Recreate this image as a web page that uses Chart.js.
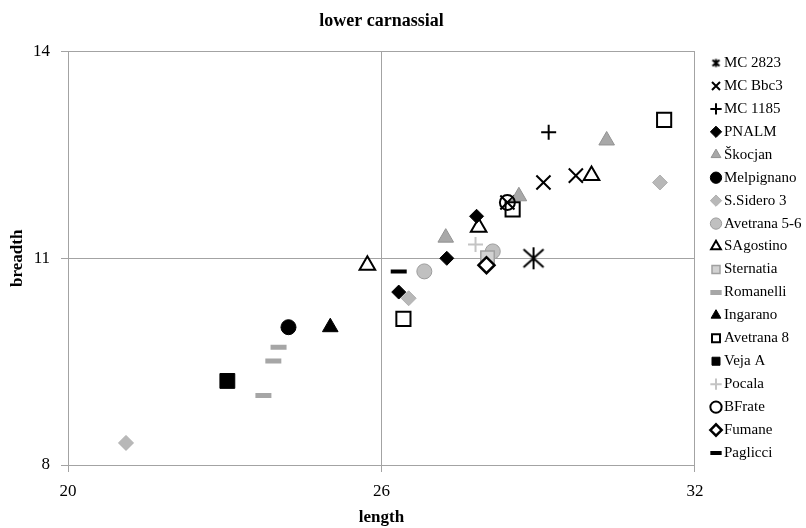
<!DOCTYPE html>
<html><head><meta charset="utf-8">
<script src="https://cdn.jsdelivr.net/npm/chart.js@4"></script>
<style>html,body{margin:0;padding:0;background:#fff}</style>
</head><body>
<canvas id="c" width="806" height="528" style="width:806px;height:528px;display:block"></canvas>
<script>
// ---- data (length, breadth) ----
const seriesNames = ['MC 2823','MC Bbc3','MC 1185','PNALM','Škocjan','Melpignano','S.Sidero 3','Avetrana 5-6','SAgostino','Sternatia','Romanelli','Ingarano','Avetrana 8','Veja A','Pocala','BFrate','Fumane','Paglicci'];
const mc2823 = [[28.91, 11.0]];
const mcBbc3 = [[29.10, 12.10], [29.72, 12.20], [28.41, 11.81]];
const mc1185 = [[29.20, 12.83]];
const pnalm = [[27.82, 11.61], [27.25, 11.0], [26.33, 10.51]];
const skocjan = [[30.31, 12.71], [28.63, 11.90], [27.23, 11.30]];
const melpignano = [[24.22, 10.0]];
const sSidero3 = [[31.33, 12.10], [26.52, 10.42], [21.11, 8.32]];
const avetrana56 = [[28.13, 11.10], [26.82, 10.81]];
const sAgostino = [[30.02, 12.20], [27.86, 11.45], [25.73, 10.90]];
const sternatia = [[28.03, 11.01]];
const romanelli = [[24.03, 9.71], [23.93, 9.51], [23.74, 9.01]];
const ingarano = [[25.02, 10.0]];
const avetrana8 = [[31.41, 13.01], [28.51, 11.71], [26.42, 10.12]];
const vejaA = [[23.05, 9.22]];
const pocala = [[27.80, 11.20]];
const bFrate = [[28.41, 11.81]];
const fumane = [[28.01, 10.90]];
const paglicci = [[26.33, 10.81]];
const xTicks = [20, 26, 32];
const yTicks = [8, 11, 14];

const seriesData = [mc2823, mcBbc3, mc1185, pnalm, skocjan, melpignano, sSidero3, avetrana56, sAgostino, sternatia, romanelli, ingarano, avetrana8, vejaA, pocala, bFrate, fumane, paglicci];

// ---- styles ----
function makeAsterisk(size, lw, r, dx, dy) {
  const c = document.createElement('canvas');
  c.width = c.height = size;
  const g = c.getContext('2d');
  g.strokeStyle = '#000'; g.lineWidth = lw;
  const m = size / 2;
  g.beginPath();
  g.moveTo(m, m - r); g.lineTo(m, m + r);
  g.moveTo(m - dx, m - dy); g.lineTo(m + dx, m + dy);
  g.moveTo(m + dx, m - dy); g.lineTo(m - dx, m + dy);
  g.stroke();
  return c;
}
const bigAst = makeAsterisk(26, 2, 11, 10, 9);
const smallAst = makeAsterisk(11, 2, 4, 3.5, 3);
const NONE = 'rgba(0,0,0,0)';
const styles = [
  {pointStyle: bigAst, r: 12, bg: NONE, bc: '#000', bw: 2},
  {pointStyle: 'crossRot', r: 10, bg: NONE, bc: '#000', bw: 2},
  {pointStyle: 'cross', r: 7.5, bg: NONE, bc: '#000', bw: 2},
  {pointStyle: 'rectRot', r: 7, bg: '#000', bc: '#000', bw: 1},
  {pointStyle: 'triangle', r: 9, bg: '#a8a8a8', bc: '#929292', bw: 1},
  {pointStyle: 'circle', r: 7.5, bg: '#000', bc: '#000', bw: 1},
  {pointStyle: 'rectRot', r: 7.5, bg: '#b8b8b8', bc: '#b0b0b0', bw: 1},
  {pointStyle: 'circle', r: 7.5, bg: '#c0c0c0', bc: '#9c9c9c', bw: 1},
  {pointStyle: 'triangle', r: 9, bg: NONE, bc: '#000', bw: 2},
  {pointStyle: 'rect', r: 9.5, bg: '#d2d2d2', bc: '#a0a0a0', bw: 1.5},
  {pointStyle: 'line', r: 8, bg: '#a6a6a6', bc: '#a6a6a6', bw: 5},
  {pointStyle: 'triangle', r: 9, bg: '#000', bc: '#000', bw: 1},
  {pointStyle: 'rect', r: 10, bg: NONE, bc: '#000', bw: 2},
  {pointStyle: 'rect', r: 10.5, bg: '#000', bc: '#000', bw: 1},
  {pointStyle: 'cross', r: 7.5, bg: NONE, bc: '#c4c4c4', bw: 2},
  {pointStyle: 'circle', r: 7.5, bg: NONE, bc: '#000', bw: 2},
  {pointStyle: 'rectRot', r: 8, bg: '#fff', bc: '#000', bw: 2.5},
  {pointStyle: 'line', r: 8, bg: '#000', bc: '#000', bw: 4}
];

const datasets = seriesNames.map((name, i) => ({
  label: name,
  order: -i, // later series drawn on top, as in the reference
  data: seriesData[i].map(p => ({x: p[0], y: p[1]})),
  pointStyle: styles[i].pointStyle,
  pointRadius: styles[i].r,
  pointHoverRadius: styles[i].r,
  backgroundColor: styles[i].bg,
  borderColor: styles[i].bc,
  pointBorderWidth: styles[i].bw,
  borderWidth: styles[i].bw
}));

const SERIF = "'Liberation Serif', 'Times New Roman', serif";
const gridColor = '#a3a3a3';
const LEG_FONT = 15, LEG_PAD = 7.94, LEG_BOX = 1;

// place the legend column where the reference has it
const legendPlace = {
  id: 'legendPlace',
  afterLayout(chart) {
    const L = chart.legend;
    if (!L) return;
    const newLeft = 716 - LEG_PAD - LEG_BOX / 2;
    const dx = newLeft - L.left;
    L.left += dx; L.right += dx;
    const newTop = 63 - LEG_PAD - LEG_FONT / 2;
    const dy = newTop - L.top;
    L.top += dy; L.bottom += dy;
  }
};

new Chart(document.getElementById('c'), {
  type: 'scatter',
  data: { datasets },
  plugins: [legendPlace],
  options: {
    responsive: false,
    animation: false,
    devicePixelRatio: 1,
    layout: { padding: { left: 0, right: 7, top: 0, bottom: 0 } },
    plugins: {
      tooltip: { enabled: false },
      title: {
        display: true, text: 'lower carnassial', fullSize: false,
        color: '#000', font: { family: SERIF, size: 18, weight: 'bold' },
        padding: { top: 11, bottom: 19 }
      },
      legend: {
        position: 'right', align: 'start',
        labels: {
          usePointStyle: true, boxWidth: LEG_BOX, boxHeight: 8, padding: LEG_PAD,
          color: '#000', font: { family: SERIF, size: LEG_FONT },
          generateLabels: (chart) => {
            const items = Chart.defaults.plugins.legend.labels.generateLabels(chart);
            items.sort((a, b) => a.datasetIndex - b.datasetIndex);
            items[0].pointStyle = smallAst;
            return items;
          }
        }
      }
    },
    scales: {
      x: {
        type: 'linear', min: 20, max: 32,
        afterBuildTicks: s => { s.ticks = xTicks.map(v => ({value: v})); },
        ticks: { color: '#000', font: { family: SERIF, size: 17 }, padding: 9 },
        grid: { color: gridColor, tickLength: 7, lineWidth: 1 },
        border: { color: gridColor },
        title: { display: true, text: 'length', color: '#000', font: { family: SERIF, size: 17, weight: 'bold' }, padding: { top: 0, bottom: 0 } },
        afterFit: s => { s.height = 63; }
      },
      y: {
        type: 'linear', min: 8, max: 14,
        afterBuildTicks: s => { s.ticks = yTicks.map(v => ({value: v})); },
        ticks: { color: '#000', font: { family: SERIF, size: 17 }, padding: 11 },
        grid: { color: gridColor, tickLength: 7, lineWidth: 1 },
        border: { color: gridColor },
        title: { display: true, text: 'breadth', color: '#000', font: { family: SERIF, size: 17, weight: 'bold' }, padding: { top: 7, bottom: 0 } },
        afterFit: s => { s.width = 68; }
      }
    }
  }
});
</script>
</body></html>
